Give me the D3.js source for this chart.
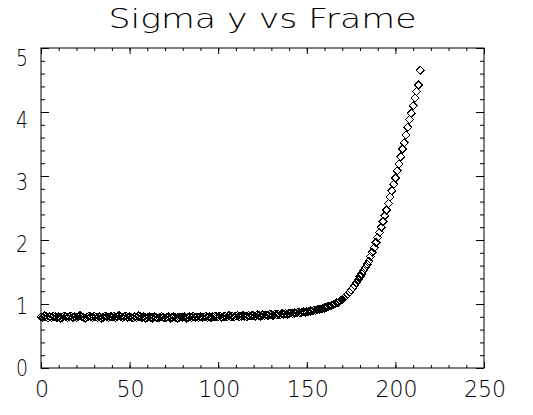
<!DOCTYPE html>
<html><head><meta charset="utf-8">
<script src="https://cdn.jsdelivr.net/npm/d3@7"></script>
<style>body{margin:0;background:#fff}svg{display:block}</style>
</head><body>
<script>
const title = "Sigma y vs Frame";
const xTickValues = [0, 50, 100, 150, 200, 250];
const yTickValues = [0, 1, 2, 3, 4, 5];
const sigmaY = [
0.80,0.79,0.81,0.80,0.78,0.80,0.79,0.81,0.80,0.79,
0.80,0.78,0.79,0.81,0.80,0.79,0.80,0.81,0.79,0.80,
0.79,0.80,0.82,0.80,0.79,0.78,0.80,0.81,0.80,0.79,
0.81,0.80,0.79,0.80,0.78,0.79,0.81,0.80,0.79,0.80,
0.80,0.81,0.79,0.80,0.82,0.80,0.79,0.80,0.81,0.79,
0.80,0.79,0.78,0.80,0.79,0.81,0.80,0.79,0.80,0.78,
0.79,0.80,0.79,0.78,0.80,0.79,0.78,0.79,0.80,0.79,
0.78,0.79,0.80,0.78,0.79,0.80,0.79,0.78,0.79,0.80,
0.79,0.80,0.78,0.79,0.80,0.79,0.81,0.79,0.80,0.79,
0.80,0.79,0.80,0.81,0.79,0.80,0.79,0.80,0.81,0.80,
0.80,0.81,0.79,0.80,0.81,0.80,0.82,0.80,0.81,0.80,
0.81,0.82,0.80,0.81,0.82,0.81,0.80,0.82,0.81,0.82,
0.82,0.81,0.83,0.82,0.81,0.83,0.82,0.83,0.82,0.84,
0.83,0.82,0.84,0.83,0.84,0.83,0.85,0.84,0.85,0.84,
0.85,0.86,0.85,0.86,0.86,0.87,0.86,0.87,0.88,0.87,
0.88,0.88,0.89,0.89,0.90,0.90,0.91,0.92,0.92,0.93,
0.94,0.95,0.96,0.97,0.98,0.99,1.00,1.02,1.03,1.05,
1.07,1.09,1.12,1.15,1.18,1.22,1.25,1.29,1.33,1.38,
1.43,1.47,1.52,1.57,1.62,1.67,1.74,1.81,1.88,1.96,
2.04,2.12,2.20,2.29,2.38,2.47,2.57,2.67,2.77,2.87,
2.97,3.08,3.19,3.30,3.42,3.52,3.64,3.76,3.88,3.98,
4.10,4.22,4.32,4.42,4.65
];
const frames = sigmaY.map((v, i) => i);

const W = 533, H = 415;
const L = 41, R = 484, T = 48, B = 368;
const font = "'DejaVu Sans', sans-serif";

const svg = d3.select("body").append("svg").attr("width", W).attr("height", H);
const x = d3.scaleLinear().domain([0, 250]).range([L, R]);
const y = d3.scaleLinear().domain([0, 5]).range([B, T]);

const xMinor = d3.range(0, 251, 10);
const yMinor = d3.range(0, 5.001, 0.2).map(v => +v.toFixed(1));

function axis(gen, tr, vals, len) {
  const g = svg.append("g").attr("transform", tr)
    .call(gen.tickValues(vals).tickSize(len).tickFormat(""));
  g.select(".domain").remove();
  g.selectAll("line").attr("stroke", "#000").attr("stroke-width", 1);
  return g;
}
axis(d3.axisBottom(x), `translate(0,${B})`, xMinor, -3);
axis(d3.axisBottom(x), `translate(0,${B})`, xTickValues, -6);
axis(d3.axisTop(x), `translate(0,${T})`, xMinor, -3);
axis(d3.axisTop(x), `translate(0,${T})`, xTickValues, -6);
axis(d3.axisLeft(y), `translate(${L},0)`, yMinor, -4);
axis(d3.axisLeft(y), `translate(${L},0)`, yTickValues, -8);
axis(d3.axisRight(y), `translate(${R},0)`, yMinor, -4);
axis(d3.axisRight(y), `translate(${R},0)`, yTickValues, -8);

svg.append("rect").attr("x", L).attr("y", T).attr("width", R - L).attr("height", B - T)
  .attr("fill", "none").attr("stroke", "#000").attr("stroke-width", 1);

svg.append("g").selectAll("text").data(xTickValues).join("text")
  .attr("x", d => x(d) + 1).attr("y", 397)
  .attr("text-anchor", "middle").attr("font-family", font).attr("font-weight", 200)
  .attr("font-size", 23).attr("fill", "#000")
  .attr("textLength", d => String(d).length * 14).attr("lengthAdjust", "spacingAndGlyphs")
  .text(d => d);
svg.append("g").selectAll("text").data(yTickValues).join("text")
  .attr("x", 28).attr("y", d => y(d) + 8 + 2 * d)
  .attr("text-anchor", "end").attr("font-family", font).attr("font-weight", 200)
  .attr("font-size", 23).attr("fill", "#000")
  .attr("textLength", 12).attr("lengthAdjust", "spacingAndGlyphs")
  .text(d => d);

svg.append("text").attr("x", (L + R) / 2).attr("y", 28)
  .attr("text-anchor", "middle").attr("font-family", font).attr("font-weight", 200)
  .attr("font-size", 27).attr("fill", "#000")
  .attr("textLength", 308).attr("lengthAdjust", "spacingAndGlyphs")
  .text(title);

const r = 4;
svg.append("g").selectAll("path").data(frames).join("path")
  .attr("d", i => {
    const cx = x(frames[i]), cy = y(sigmaY[i]);
    return `M${cx},${cy - r}L${cx + r},${cy}L${cx},${cy + r}L${cx - r},${cy}Z`;
  })
  .attr("fill", "none").attr("stroke", "#000").attr("stroke-width", 1)
  .attr("shape-rendering", "crispEdges");
</script>
</body></html>
